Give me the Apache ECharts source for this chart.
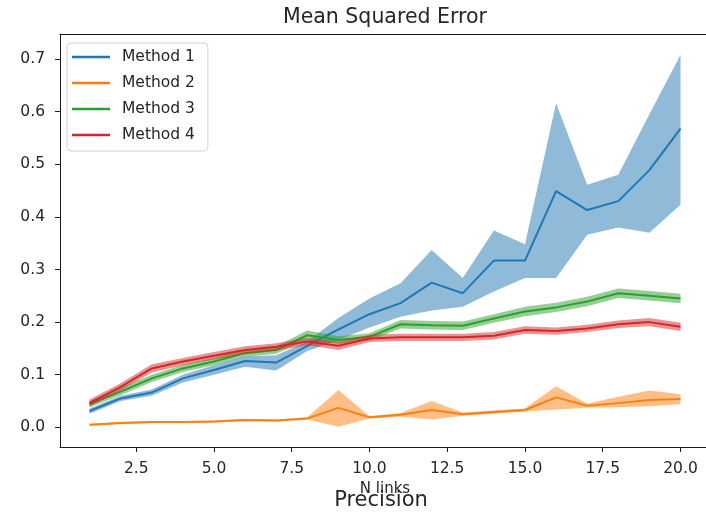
<!DOCTYPE html>
<html>
<head>
<meta charset="utf-8">
<script src="https://cdn.jsdelivr.net/npm/echarts@6/dist/echarts.min.js"></script>
<style>
  html, body { margin: 0; padding: 0; background: #fff; }
  #chart { width: 706px; height: 512px; }
</style>
</head>
<body>
<div id="chart"></div>
<script>
// Number of links on the x axis
const nLinks = [1, 2, 3, 4, 5, 6, 7, 8, 9, 10, 11, 12, 13, 14, 15, 16, 17, 18, 19, 20];

// Method 1: mean and spread
const m1Mean = [0.031, 0.055, 0.066, 0.093, 0.109, 0.126, 0.123, 0.155, 0.186, 0.215, 0.236, 0.275, 0.255, 0.317, 0.317, 0.449, 0.413, 0.430, 0.489, 0.568];
const m1Low  = [0.026, 0.050, 0.060, 0.085, 0.100, 0.115, 0.108, 0.145, 0.166, 0.190, 0.210, 0.222, 0.229, 0.258, 0.284, 0.284, 0.366, 0.380, 0.370, 0.423];
const m1High = [0.036, 0.060, 0.072, 0.100, 0.118, 0.135, 0.137, 0.163, 0.208, 0.245, 0.274, 0.337, 0.284, 0.374, 0.348, 0.616, 0.461, 0.480, 0.595, 0.708];

// Method 2
const m2Mean = [0.005, 0.008, 0.010, 0.010, 0.011, 0.014, 0.013, 0.017, 0.037, 0.019, 0.024, 0.033, 0.025, 0.029, 0.033, 0.057, 0.041, 0.046, 0.052, 0.054];
const m2Low  = [0.003, 0.006, 0.008, 0.008, 0.009, 0.012, 0.011, 0.015, 0.001, 0.017, 0.020, 0.015, 0.022, 0.026, 0.030, 0.034, 0.037, 0.038, 0.040, 0.044];
const m2High = [0.007, 0.010, 0.012, 0.012, 0.013, 0.016, 0.015, 0.019, 0.071, 0.021, 0.027, 0.050, 0.028, 0.032, 0.036, 0.078, 0.045, 0.058, 0.070, 0.063];

// Method 3
const m3Mean = [0.044, 0.068, 0.093, 0.112, 0.125, 0.141, 0.147, 0.175, 0.166, 0.172, 0.196, 0.194, 0.193, 0.207, 0.220, 0.228, 0.239, 0.255, 0.250, 0.245];
const m3Low  = [0.038, 0.061, 0.086, 0.105, 0.118, 0.134, 0.140, 0.166, 0.159, 0.165, 0.188, 0.186, 0.185, 0.199, 0.211, 0.219, 0.230, 0.246, 0.241, 0.236];
const m3High = [0.050, 0.075, 0.100, 0.119, 0.132, 0.148, 0.154, 0.184, 0.173, 0.179, 0.204, 0.202, 0.201, 0.215, 0.229, 0.237, 0.248, 0.264, 0.259, 0.254];

// Method 4
const m4Mean = [0.046, 0.077, 0.112, 0.125, 0.136, 0.147, 0.153, 0.163, 0.155, 0.169, 0.171, 0.171, 0.171, 0.174, 0.185, 0.183, 0.188, 0.196, 0.200, 0.191];
const m4Low  = [0.039, 0.070, 0.104, 0.118, 0.129, 0.140, 0.146, 0.156, 0.147, 0.162, 0.164, 0.164, 0.164, 0.167, 0.178, 0.176, 0.181, 0.189, 0.192, 0.183];
const m4High = [0.053, 0.084, 0.120, 0.132, 0.143, 0.154, 0.160, 0.170, 0.163, 0.176, 0.178, 0.178, 0.178, 0.181, 0.192, 0.190, 0.195, 0.203, 0.208, 0.199];

// Tick labels
const xTicks = [2.5, 5.0, 7.5, 10.0, 12.5, 15.0, 17.5, 20.0];
const yTicks = [0.0, 0.1, 0.2, 0.3, 0.4, 0.5, 0.6, 0.7];

const methodNames = ['Method 1', 'Method 2', 'Method 3', 'Method 4'];
const colors = ['#1f77b4', '#ff7f0e', '#2ca02c', '#d62728'];
const methods = [
  { mean: m1Mean, low: m1Low, high: m1High },
  { mean: m2Mean, low: m2Low, high: m2High },
  { mean: m3Mean, low: m3Low, high: m3High },
  { mean: m4Mean, low: m4Low, high: m4High }
];

const FONT = 'DejaVu Sans';
const TXT = '#262626';
const SPINE = { show: true, onZero: false, lineStyle: { color: '#1a1a1a', width: 1 } };

// Plot extent: the right edge of the axes runs past the canvas
const X_MIN = 0.05, X_MAX = 20.82;
const Y_MIN = -0.0374, Y_MAX = 0.7477;

// Shaded band between low and high, drawn as one polygon
function bandSeries(idx) {
  const m = methods[idx];
  return {
    type: 'custom',
    name: methodNames[idx] + ' band',
    z: 2 * idx + 2,
    silent: true,
    data: [[nLinks[0], m.mean[0]]],
    renderItem: function (params, api) {
      const pts = [];
      for (let i = 0; i < nLinks.length; i++) pts.push(api.coord([nLinks[i], m.high[i]]));
      for (let i = nLinks.length - 1; i >= 0; i--) pts.push(api.coord([nLinks[i], m.low[i]]));
      return {
        type: 'polygon',
        shape: { points: pts },
        style: { fill: colors[idx], opacity: 0.5, stroke: null }
      };
    }
  };
}

function lineSeries(idx) {
  const m = methods[idx];
  return {
    type: 'line',
    name: methodNames[idx],
    z: 2 * idx + 1,
    symbol: 'none',
    silent: true,
    data: nLinks.map((x, i) => [x, m.mean[i]]),
    lineStyle: { color: colors[idx], width: 2 },
    itemStyle: { color: colors[idx] }
  };
}

const series = [];
for (let i = 0; i < 4; i++) {
  series.push(lineSeries(i));
  series.push(bandSeries(i));
}

const chart = echarts.init(document.getElementById('chart'), null, { renderer: 'canvas' });
chart.setOption({
  animation: false,
  backgroundColor: '#fff',
  title: [
    {
      text: 'Mean Squared Error',
      left: 385, top: 7, textAlign: 'center', padding: 0,
      textStyle: { fontFamily: FONT, fontSize: 20.5, fontWeight: 'normal', color: TXT }
    },
    {
      text: 'N links',
      left: 385, top: 482, textAlign: 'center', padding: 0,
      textStyle: { fontFamily: FONT, fontSize: 15, fontWeight: 'normal', color: TXT }
    },
    {
      text: 'Precision',
      left: 381, top: 490, textAlign: 'center', padding: 0,
      textStyle: { fontFamily: FONT, fontSize: 21, fontWeight: 'normal', color: TXT }
    }
  ],
  legend: {
    data: methodNames.map(n => ({ name: n, icon: 'rect' })),
    orient: 'vertical',
    left: 67, top: 43,
    padding: [6, 13, 8, 5],
    itemWidth: 38, itemHeight: 2.5, itemGap: 10,
    backgroundColor: 'rgba(255,255,255,0.8)',
    borderColor: '#d0d0d0', borderWidth: 1, borderRadius: 4,
    textStyle: { fontFamily: FONT, fontSize: 15.5, lineHeight: 16, color: TXT, padding: [0, 0, 0, 7] }
  },
  grid: {
    left: 60, top: 34, right: 0, height: 413,
    show: false
  },
  xAxis: [
    {
      type: 'value', position: 'bottom',
      min: X_MIN, max: X_MAX,
      axisLine: SPINE,
      splitLine: { show: false },
      axisTick: { show: true, customValues: xTicks, length: 5, inside: false, lineStyle: { color: '#1a1a1a', width: 1 } },
      axisLabel: {
        customValues: xTicks, margin: 14,
        formatter: v => Number(v).toFixed(1),
        fontFamily: FONT, fontSize: 15.5, color: TXT
      }
    },
    {
      // top spine only
      type: 'value', position: 'top',
      min: X_MIN, max: X_MAX,
      axisLine: SPINE,
      axisTick: { show: false },
      axisLabel: { show: false },
      splitLine: { show: false }
    }
  ],
  yAxis: {
    type: 'value', position: 'left',
    min: Y_MIN, max: Y_MAX,
    axisLine: SPINE,
    splitLine: { show: false },
    axisTick: { show: true, customValues: yTicks, length: 5, inside: false, lineStyle: { color: '#1a1a1a', width: 1 } },
    axisLabel: {
      customValues: yTicks, margin: 15,
      formatter: v => Number(v).toFixed(1),
      fontFamily: FONT, fontSize: 15.5, color: TXT
    }
  },
  series: series
});
</script>
</body>
</html>
